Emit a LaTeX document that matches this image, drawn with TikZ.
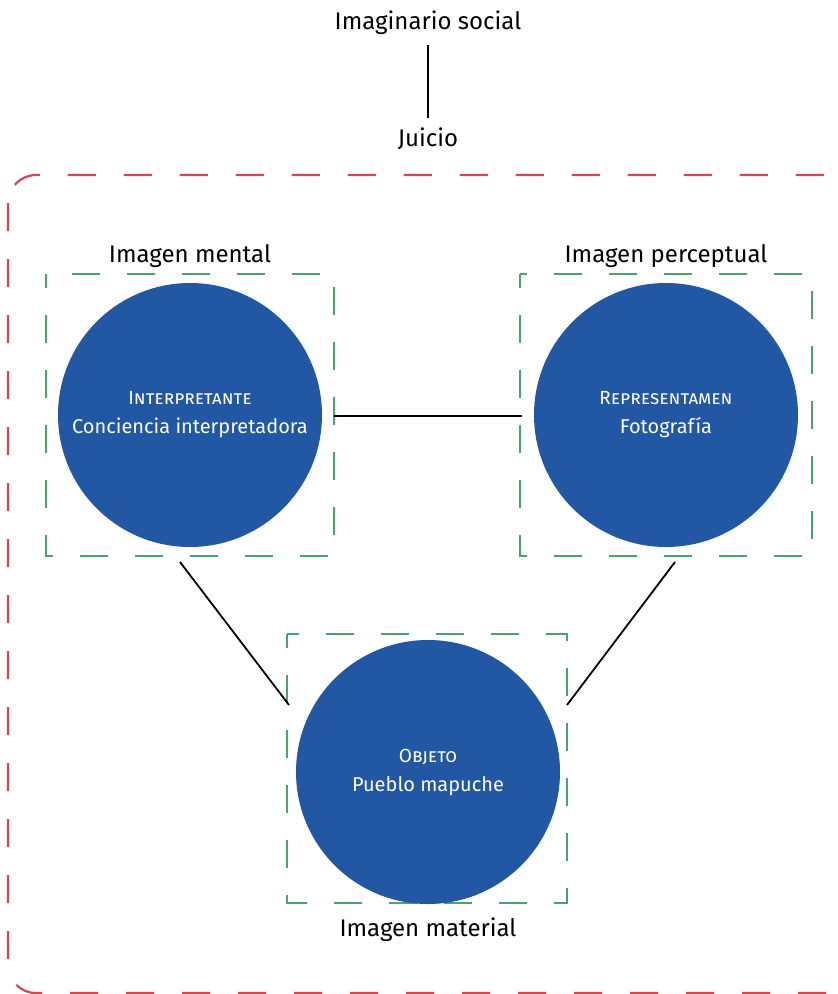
\documentclass[tikz,border=0pt]{standalone}
\usepackage{fontspec}
\setmainfont{Fira Sans}
\definecolor{cblue}{HTML}{2257A3}
\definecolor{cgreen}{HTML}{46A56E}
\definecolor{cred}{HTML}{D5484F}
\newcommand{\smc}[1]{{\fontsize{19}{22}\selectfont\addfontfeature{Letters=SmallCaps}#1}}
\begin{document}
\begin{tikzpicture}[x=1pt,y=-1pt,
  lbl/.style={font=\fontsize{24}{28}\selectfont, inner sep=0pt, anchor=center},
  circ/.style={circle, fill=cblue, minimum size=264pt, inner sep=0pt, text=white, align=center,
    font=\fontsize{20}{29}\selectfont},
  gbox/.style={draw=cgreen, line width=2.4pt, dash pattern=on 28pt off 27pt, dash phase=14pt},
  link/.style={draw=black, line width=1.8pt}]
\useasboundingbox (0,0) rectangle (838,994);
\begin{scope}
\clip (0,0) rectangle (838,994);
\draw[cred, line width=2.2pt, dash pattern=on 28pt off 28pt, rounded corners=28pt] (8,175) rectangle (862,993);
\end{scope}
\node[lbl] (imag) at (428,23) {Imaginario social};
\node[lbl] (juic) at (428,139) {Juicio};
\draw[link] (428,45) coordinate (v1) -- (428,118) coordinate (v2);

\draw[gbox] (46,274) rectangle (334,556);
\draw[gbox] (520,274) rectangle (812,556);
\draw[gbox] (287,634) rectangle (567,903);

\node[lbl] (lm) at (190,256) {Imagen mental};
\node[lbl] (lp) at (666,256) {Imagen perceptual};
\node[lbl] (lo) at (428,930) {Imagen material};

\node[circ] (interp) at (190,415) {\smc{Interpretante}\\Conciencia interpretadora};
\node[circ] (repr) at (666,415) {\smc{Representamen}\\Fotografía};
\node[circ] (obj) at (428,772) {\smc{Objeto}\\Pueblo mapuche};

\coordinate (a1) at (334,416);
\coordinate (a2) at (522,416);
\coordinate (b1) at (180,562);
\coordinate (b2) at (289,705);
\coordinate (c1) at (675,562);
\coordinate (c2) at (567,705);
\draw[link] (a1) -- (a2);
\draw[link] (b1) -- (b2);
\draw[link] (c1) -- (c2);
\end{tikzpicture}
\end{document}
